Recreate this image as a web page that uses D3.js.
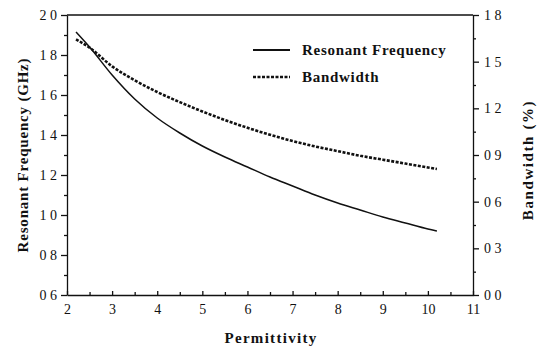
<!doctype html>
<html>
<head>
<meta charset="utf-8">
<title>Resonant frequency and bandwidth vs permittivity</title>
<script src="https://d3js.org/d3.v7.min.js"></script>
<style>
  body { margin: 0; background: #fff; }
  svg text { font-family: "Liberation Serif", "DejaVu Serif", serif; fill: #111; }
</style>
</head>
<body>
<div id="plot"></div>
<script>
// values
const permittivity = [2.2, 2.5, 3, 3.5, 4, 4.5, 5, 5.5, 6, 6.5, 7, 7.5, 8, 8.5, 9, 9.5, 10, 10.2];
const resonantFreq = [1.915, 1.84, 1.70, 1.58, 1.485, 1.41, 1.345, 1.29, 1.24, 1.19, 1.145, 1.10, 1.06, 1.025, 0.99, 0.96, 0.93, 0.92];
const bandwidth = [1.644, 1.59, 1.47, 1.38, 1.305, 1.24, 1.18, 1.125, 1.075, 1.03, 0.99, 0.955, 0.925, 0.895, 0.87, 0.845, 0.82, 0.81];

const xTicks = [2, 3, 4, 5, 6, 7, 8, 9, 10, 11];
const leftTicks = [0.6, 0.8, 1.0, 1.2, 1.4, 1.6, 1.8, 2.0];
const leftTickLabels = ["0 6", "0 8", "1 0", "1 2", "1 4", "1 6", "1 8", "2 0"];
const rightTicks = [0.0, 0.3, 0.6, 0.9, 1.2, 1.5, 1.8];
const rightTickLabels = ["0 0", "0 3", "0 6", "0 9", "1 2", "1 5", "1 8"];

const W = 541, H = 348;
const margin = {top: 15, right: 68, bottom: 53, left: 67};
const width = W - margin.left - margin.right,
      height = H - margin.top - margin.bottom;

const svg = d3.select("#plot").append("svg")
    .attr("width", W).attr("height", H);
const g = svg.append("g")
    .attr("transform", `translate(${margin.left},${margin.top})`);

const x = d3.scaleLinear().domain([2, 11]).range([0, width]);
const yL = d3.scaleLinear().domain([0.6, 2.0]).range([height, 0]);
const yR = d3.scaleLinear().domain([0, 1.8]).range([height, 0]);

// minor ticks first
g.append("g")
  .attr("transform", `translate(0,${height})`)
  .call(d3.axisBottom(x).tickValues(d3.range(2.5, 11, 1)).tickSize(-3).tickFormat(""))
  .call(a => a.select(".domain").remove());
g.append("g")
  .call(d3.axisLeft(yL).tickValues(d3.range(0.7, 2.0, 0.2)).tickSize(3).tickFormat(""))
  .call(a => a.select(".domain").remove());
g.append("g")
  .attr("transform", `translate(${width},0)`)
  .call(d3.axisRight(yR).tickValues(d3.range(0.15, 1.8, 0.3)).tickSize(3).tickFormat(""))
  .call(a => a.select(".domain").remove());

// major axes
g.append("g")
  .attr("transform", `translate(0,${height})`)
  .call(d3.axisBottom(x).tickValues(xTicks).tickSize(-4).tickPadding(9).tickSizeOuter(0))
  .call(a => a.selectAll("text").style("font-size", "14px"));
g.append("g")
  .call(d3.axisLeft(yL).tickValues(leftTicks).tickSize(6).tickPadding(4).tickSizeOuter(0)
    .tickFormat((d, i) => leftTickLabels[i]))
  .call(a => a.selectAll("text").style("font-size", "14px"));
g.append("g")
  .attr("transform", `translate(${width},0)`)
  .call(d3.axisRight(yR).tickValues(rightTicks).tickSize(6).tickPadding(5).tickSizeOuter(0)
    .tickFormat((d, i) => rightTickLabels[i]))
  .call(a => a.selectAll("text").style("font-size", "14px"));

g.selectAll(".tick line, .domain").attr("stroke", "#111").attr("stroke-width", 1.3);

// top frame line
g.append("line")
  .attr("x1", 0).attr("x2", width).attr("y1", 0).attr("y2", 0)
  .attr("stroke", "#111").attr("stroke-width", 1.3);

// curves
const freqLine = d3.line().x((d, i) => x(permittivity[i])).y(d => yL(d)).curve(d3.curveMonotoneX);
const bwLine = d3.line().x((d, i) => x(permittivity[i])).y(d => yR(d)).curve(d3.curveMonotoneX);

g.append("path").datum(resonantFreq)
  .attr("d", freqLine).attr("fill", "none")
  .attr("stroke", "#111").attr("stroke-width", 1.5);
g.append("path").datum(bandwidth)
  .attr("d", bwLine).attr("fill", "none")
  .attr("stroke", "#111").attr("stroke-width", 2.6).attr("stroke-dasharray", "3,1.5");

// legend
const legend = [
  {label: "Resonant Frequency", dash: null, w: 2},
  {label: "Bandwidth", dash: "3,1.5", w: 2.6}
];
const lg = svg.append("g").attr("transform", "translate(253,50)");
legend.forEach((l, i) => {
  lg.append("line")
    .attr("x1", 0).attr("x2", 37).attr("y1", i * 27).attr("y2", i * 27)
    .attr("stroke", "#111").attr("stroke-width", l.w)
    .attr("stroke-dasharray", l.dash);
  lg.append("text")
    .attr("x", 49).attr("y", i * 27 + 5)
    .style("font-size", "15px").style("font-weight", "bold").style("letter-spacing", "0.7px")
    .text(l.label);
});

// axis titles
svg.append("text")
  .attr("x", 271).attr("y", 343)
  .attr("text-anchor", "middle")
  .style("font-size", "15px").style("font-weight", "bold").style("letter-spacing", "1.3px")
  .text("Permittivity");

svg.append("text")
  .attr("transform", "translate(28,155) rotate(-90)")
  .attr("text-anchor", "middle")
  .style("font-size", "15px").style("font-weight", "bold").style("letter-spacing", "0.8px")
  .text("Resonant Frequency (GHz)");

svg.append("text")
  .attr("transform", "translate(533,160) rotate(-90)")
  .attr("text-anchor", "middle")
  .style("font-size", "15px").style("font-weight", "bold").style("letter-spacing", "1.6px")
  .text("Bandwidth (%)");
</script>
</body>
</html>
